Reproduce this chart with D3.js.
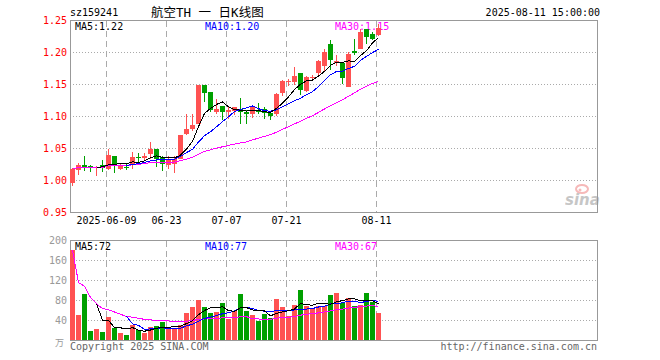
<!DOCTYPE html>
<html>
<head>
<meta charset="utf-8">
<script src="https://cdn.jsdelivr.net/npm/d3@7"></script>
<style>
body { margin: 0; background: #fff; }
svg { display: block; }
text { font-family: "DejaVu Sans Mono", monospace; font-size: 10px; }
</style>
</head>
<body>
<svg width="660" height="360"></svg>
<script>
// daily data, sz159241
var dates = ["2025-05-29","2025-05-30","2025-06-03","2025-06-04","2025-06-05","2025-06-06",
  "2025-06-09","2025-06-10","2025-06-11","2025-06-12","2025-06-13","2025-06-16","2025-06-17",
  "2025-06-18","2025-06-19","2025-06-20","2025-06-23","2025-06-24","2025-06-25","2025-06-26",
  "2025-06-27","2025-06-30","2025-07-01","2025-07-02","2025-07-03","2025-07-04","2025-07-07",
  "2025-07-08","2025-07-09","2025-07-10","2025-07-11","2025-07-14","2025-07-15","2025-07-16",
  "2025-07-17","2025-07-18","2025-07-21","2025-07-22","2025-07-23","2025-07-24","2025-07-25",
  "2025-07-28","2025-07-29","2025-07-30","2025-07-31","2025-08-01","2025-08-04","2025-08-05",
  "2025-08-06","2025-08-07","2025-08-08","2025-08-11"];
var opens  = [0.996,1.016,1.023,1.022,1.020,1.023,1.017,1.038,1.017,1.020,1.023,1.036,1.034,
  1.041,1.048,1.036,1.023,1.025,1.033,1.072,1.080,1.088,1.148,1.138,1.106,1.116,1.106,
  1.108,1.111,1.106,1.103,1.109,1.111,1.105,1.103,1.136,1.153,1.153,1.167,1.139,1.159,
  1.167,1.178,1.213,1.183,1.183,1.145,1.201,1.205,1.236,1.228,1.227];
var highs  = [1.019,1.027,1.038,1.023,1.022,1.031,1.048,1.038,1.025,1.025,1.044,1.042,1.042,
  1.060,1.048,1.038,1.038,1.038,1.070,1.103,1.103,1.148,1.148,1.138,1.127,1.116,1.114,
  1.114,1.128,1.109,1.114,1.120,1.114,1.105,1.136,1.156,1.158,1.177,1.167,1.163,1.164,
  1.188,1.205,1.219,1.196,1.183,1.200,1.220,1.236,1.236,1.231,1.244];
var lows   = [0.991,1.008,1.014,1.013,1.006,1.013,1.016,1.011,1.016,1.016,1.017,1.028,1.031,
  1.033,1.020,1.014,1.017,1.011,1.033,1.070,1.077,1.088,1.122,1.106,1.103,1.094,1.095,
  1.102,1.088,1.088,1.097,1.103,1.095,1.094,1.100,1.131,1.147,1.148,1.133,1.138,1.156,
  1.164,1.170,1.172,1.178,1.150,1.145,1.195,1.205,1.212,1.219,1.225];
var closes = [1.017,1.023,1.020,1.019,1.021,1.019,1.039,1.025,1.023,1.019,1.036,1.034,1.037,
  1.048,1.033,1.025,1.033,1.033,1.070,1.080,1.086,1.148,1.136,1.109,1.111,1.106,1.109,
  1.114,1.106,1.103,1.114,1.106,1.105,1.100,1.134,1.155,1.155,1.163,1.141,1.161,1.161,
  1.186,1.200,1.188,1.186,1.159,1.197,1.198,1.232,1.224,1.220,1.238];
// volume, 万
var volumes = [180,50,92,18,22,16,46,24,14,10,30,20,14,26,28,36,22,22,30,54,66,80,66,55,57,74,
  42,58,92,58,50,38,52,44,82,66,48,70,100,68,62,68,68,90,94,74,85,68,70,94,76,54];

var priceTicks = [1.25, 1.20, 1.15, 1.10, 1.05, 1.00, 0.95];
var volTicks = [200, 160, 120, 80, 40];
var tickDates = ["2025-06-09","2025-06-23","2025-07-07","2025-07-21","2025-08-11"];
var tickLabels = ["2025-06-09","06-23","07-07","07-21","08-11"];

var RED = "#ff5252", GREEN = "#00a000";

function ma(arr, n, partial) {
  return arr.map(function(d, i) {
    if (i < n - 1) return partial ? d3.mean(arr.slice(0, i + 1)) : null;
    return d3.mean(arr.slice(i - n + 1, i + 1));
  });
}

var svg = d3.select("svg");
var left = 70, right = 597;
var x = d3.scaleLinear().domain([0, 88]).range([70, 598]);
var y = d3.scaleLinear().domain([0.95, 1.25]).range([212, 20]);
var yv = d3.scaleLinear().domain([0, 200]).range([340, 240]);

function xi(d) { return dates.indexOf(d); }

// ---- header
svg.append("text").attr("x", 70).attr("y", 16).text("sz159241");
svg.append("text").attr("x", 151).attr("y", 17)
  .style("font-family", "'DejaVu Sans Mono','Noto Sans CJK SC'").style("font-size", "12.5px")
  .text("航空TH 一 日K线图");
svg.append("text").attr("x", 600).attr("y", 16).attr("text-anchor", "end").text("2025-08-11 15:00:00");

// ---- grids
function hgrid(vals, sc) {
  svg.append("g").selectAll("line").data(vals).enter().append("line")
    .attr("x1", left).attr("x2", right + 1)
    .attr("y1", d => Math.round(sc(d)) + 0.5).attr("y2", d => Math.round(sc(d)) + 0.5)
    .attr("stroke", "#aaa").attr("stroke-dasharray", "1,2");
}
hgrid(priceTicks.slice(1, -1), y);
hgrid(volTicks.slice(1), yv);

function vgrid(y1, y2) {
  svg.append("g").selectAll("line").data(tickDates).enter().append("line")
    .attr("x1", d => x(xi(d)) + 0.5).attr("x2", d => x(xi(d)) + 0.5)
    .attr("y1", y1).attr("y2", y2)
    .attr("stroke", "#aaa").attr("stroke-dasharray", "6,4");
}
vgrid(21, 212);
vgrid(241, 340);

// borders
svg.append("rect").attr("x", left + 0.5).attr("y", 20.5).attr("width", right - left).attr("height", 192)
  .attr("fill", "none").attr("stroke", "#999");
svg.append("rect").attr("x", left + 0.5).attr("y", 240.5).attr("width", right - left).attr("height", 100)
  .attr("fill", "none").attr("stroke", "#999");

// axis labels
svg.append("g").selectAll("text").data(priceTicks).enter().append("text")
  .attr("x", 67).attr("y", d => y(d)).attr("dy", "0.35em").attr("text-anchor", "end")
  .attr("fill", "#f00").text(d => d3.format(".2f")(d));
svg.append("g").selectAll("text").data(volTicks).enter().append("text")
  .attr("x", 67).attr("y", d => yv(d)).attr("dy", "0.35em").attr("text-anchor", "end")
  .attr("fill", "#999").text(d => d);
svg.append("text").attr("x", 64).attr("y", 346).attr("text-anchor", "end").attr("fill", "#999")
  .style("font-family", "'Noto Sans CJK SC'").style("font-size", "9px").text("万");

svg.append("g").selectAll("text").data(tickDates).enter().append("text")
  .attr("x", d => x(xi(d)) + 0.5).attr("y", 224).attr("text-anchor", "middle")
  .text((d, i) => tickLabels[i]);

// sina watermark
var wm = svg.append("g").attr("opacity", 0.55);
wm.append("ellipse").attr("cx", 582).attr("cy", 189).attr("rx", 6).attr("ry", 4)
  .attr("fill", "none").attr("stroke", "#f08080").attr("stroke-width", 2);
wm.append("circle").attr("cx", 580).attr("cy", 190).attr("r", 1.5).attr("fill", "#f08080");
wm.append("text").attr("x", 565).attr("y", 205)
  .style("font-family", "'DejaVu Sans'").style("font-size", "15px")
  .style("font-style", "italic").style("font-weight", "bold").attr("fill", "#999").text("sina");

// ---- MA values
var ma5 = ma(closes, 5, false), ma10 = ma(closes, 10, false), ma30 = ma(closes, 30, true);
var vma5 = ma(volumes, 5, false), vma10 = ma(volumes, 10, false), vma30 = ma(volumes, 30, true);
var last = dates.length - 1;

// legends (drawn below the marks)
function legend(yy, items) {
  items.forEach(function(it) {
    svg.append("text").attr("x", it[0]).attr("y", yy).attr("fill", it[1]).text(it[2]);
  });
}
legend(30, [[75, "#000", "MA5:" + ma5[last].toFixed(2)],
            [205, "#00f", "MA10:" + ma10[last].toFixed(2)],
            [335, "#f0f", "MA30:" + ma30[last].toFixed(2)]]);
legend(250, [[75, "#000", "MA5:" + Math.round(vma5[last])],
             [205, "#00f", "MA10:" + Math.round(vma10[last])],
             [335, "#f0f", "MA30:" + Math.round(vma30[last])]]);

// ---- candles
var idx = d3.range(dates.length);
var col = i => closes[i] >= opens[i] ? RED : GREEN;
var cg = svg.append("g").attr("shape-rendering", "crispEdges");
cg.selectAll(".wick").data(idx).enter().append("rect")
  .attr("x", i => x(i) + 2).attr("width", 1)
  .attr("y", i => Math.round(y(highs[i])))
  .attr("height", i => Math.max(1, Math.round(y(lows[i])) - Math.round(y(highs[i]))))
  .attr("fill", col);
cg.selectAll(".body").data(idx).enter().append("rect")
  .attr("x", i => x(i)).attr("width", 5)
  .attr("y", i => Math.round(y(Math.max(opens[i], closes[i]))))
  .attr("height", i => Math.max(1, Math.round(y(Math.min(opens[i], closes[i]))) - Math.round(y(Math.max(opens[i], closes[i])))))
  .attr("fill", col);

// volume bars
cg.selectAll(".vol").data(idx).enter().append("rect")
  .attr("x", i => x(i)).attr("width", 5)
  .attr("y", i => Math.round(yv(volumes[i])))
  .attr("height", i => 340 - Math.round(yv(volumes[i])))
  .attr("fill", col);

// ---- MA lines
function maLine(vals, sc, color) {
  var line = d3.line().defined(d => d != null).x((d, i) => x(i) + 2.5).y(d => sc(d));
  svg.append("path").datum(vals).attr("d", line).attr("fill", "none")
    .attr("stroke", color).attr("stroke-width", 1).attr("shape-rendering", "crispEdges");
}
maLine(ma30, y, "#f0f");
maLine(ma10, y, "#00f");
maLine(ma5, y, "#000");
maLine(vma30, yv, "#f0f");
maLine(vma10, yv, "#00f");
maLine(vma5, yv, "#000");

// footer
svg.append("text").attr("x", 70).attr("y", 350).attr("fill", "#666").text("Copyright 2025 SINA.COM");
svg.append("text").attr("x", 597).attr("y", 350).attr("text-anchor", "end").attr("fill", "#666")
  .text("http://finance.sina.com.cn");
</script>
</body>
</html>
